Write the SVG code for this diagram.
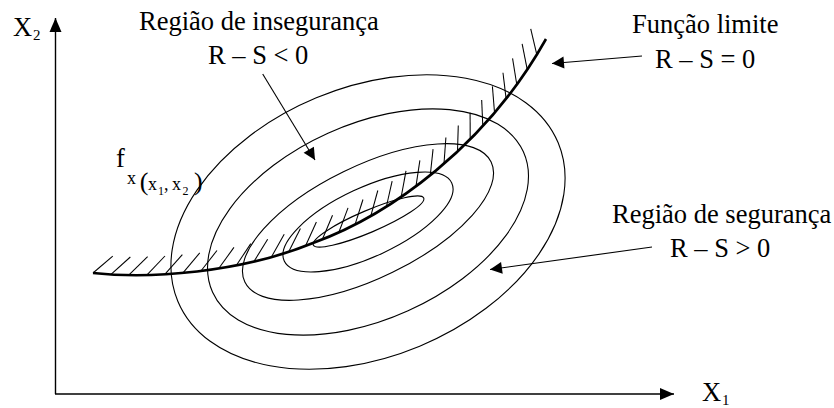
<svg xmlns="http://www.w3.org/2000/svg" width="834" height="408" viewBox="0 0 834 408">
<style>
text{font-family:"Liberation Serif","Times New Roman",serif;font-size:26.5px;fill:#000}
.sub{font-size:15px}
.ell{fill:none;stroke:#000;stroke-width:1.1}
.ln{fill:none;stroke:#000;stroke-width:1.1}
.ax{fill:none;stroke:#000;stroke-width:1.4}
</style>
<defs>
<marker id="arr" markerUnits="userSpaceOnUse" orient="auto" markerWidth="20" markerHeight="20" viewBox="-16 -10 20 20" refX="0" refY="0"><path d="M0,0 L-12,-6 L-12,6 Z" fill="#000"/></marker>
<marker id="arrAx" markerUnits="userSpaceOnUse" orient="auto" markerWidth="20" markerHeight="20" viewBox="-16 -10 20 20" refX="0" refY="0"><path d="M0,0 L-14,-6 L-14,6 Z" fill="#000"/></marker>
<marker id="hatch" markerUnits="userSpaceOnUse" orient="auto" markerWidth="60" markerHeight="60" viewBox="-30 -30 60 60" refX="0" refY="0"><line x1="0" y1="0" x2="18.4" y2="-18.4" stroke="#000" stroke-width="1.05"/></marker>
</defs>
<g id="axes">
<line class="ax" x1="55.5" y1="394" x2="55.5" y2="18" marker-end="url(#arrAx)"/>
<line class="ax" x1="55" y1="394" x2="674" y2="394" marker-end="url(#arrAx)"/>
<text x="13" y="36">X</text><text class="sub" x="33" y="40">2</text>
<text x="702" y="401">X</text><text class="sub" x="722" y="405">1</text>
</g>
<g id="density">
<ellipse class="ell" cx="368" cy="222" rx="206" ry="134.5" transform="rotate(-22.6 368 222)"/>
<ellipse class="ell" cx="368" cy="222" rx="170.5" ry="97.4" transform="rotate(-24.3 368 222)"/>
<ellipse class="ell" cx="368" cy="222" rx="137" ry="56" transform="rotate(-26 368 222)"/>
<ellipse class="ell" cx="368" cy="222" rx="92.4" ry="34.4" transform="rotate(-25 368 222)"/>
<ellipse class="ell" cx="368.5" cy="221.5" rx="60" ry="11" transform="rotate(-23 368.5 221.5)"/>
<text x="116" y="167">f</text>
<text x="127" y="184" style="font-size:18px">x</text>
<text x="139.8" y="190" style="font-size:26px">(</text>
<text x="148" y="190" style="font-size:18px">x</text>
<text x="158" y="195" style="font-size:12px">1</text>
<text x="164" y="190" style="font-size:18px">,</text>
<text x="172" y="190" style="font-size:18px">x</text>
<text x="182.5" y="195" style="font-size:12px">2</text>
<text x="194" y="190" style="font-size:26px">)</text>
</g>
<g id="limit">
<path d="M93,273 C150,279 240,273 313,243 C390,215 486,146 546,39" fill="none" stroke="#000" stroke-width="2.6"/>
<polyline fill="none" stroke="none" marker-start="url(#hatch)" marker-mid="url(#hatch)" points="93,273 111,274.4 129,274.9 147,274.8 165,274.1 183,272.8 200.9,271 218.7,268.5 236.4,265.3 254,261.4 271.4,257 288.7,251.8 305.6,245.7 322.4,239.2 338.9,232.2 355.1,224.3 370.9,215.6 386.4,206.5 401.3,196.4 416,186.1 430.3,175 444,163.5 457.5,151.5 470.2,138.8 482.8,126 494.5,112.3 506.1,98.6 516.7,84 527.2,69.4 536.7,54.1 546,39"/>
</g>
<g id="unsafe">
<text x="139" y="30">Região de insegurança</text>
<text x="208" y="64">R – S &lt; 0</text>
</g>
<g id="limitlabel">
<text x="632" y="33">Função limite</text>
<text x="655" y="68">R – S = 0</text>
</g>
<g id="safe">
<text x="612" y="223">Região de segurança</text>
<text x="670" y="257">R – S &gt; 0</text>
</g>
<g id="connectors">
<line class="ln" x1="262.7" y1="74" x2="315" y2="160" marker-end="url(#arr)"/>
<line class="ln" x1="642" y1="56" x2="552" y2="63.5" marker-end="url(#arr)"/>
<line class="ln" x1="652" y1="247" x2="490" y2="269.5" marker-end="url(#arr)"/>
</g>
</svg>
